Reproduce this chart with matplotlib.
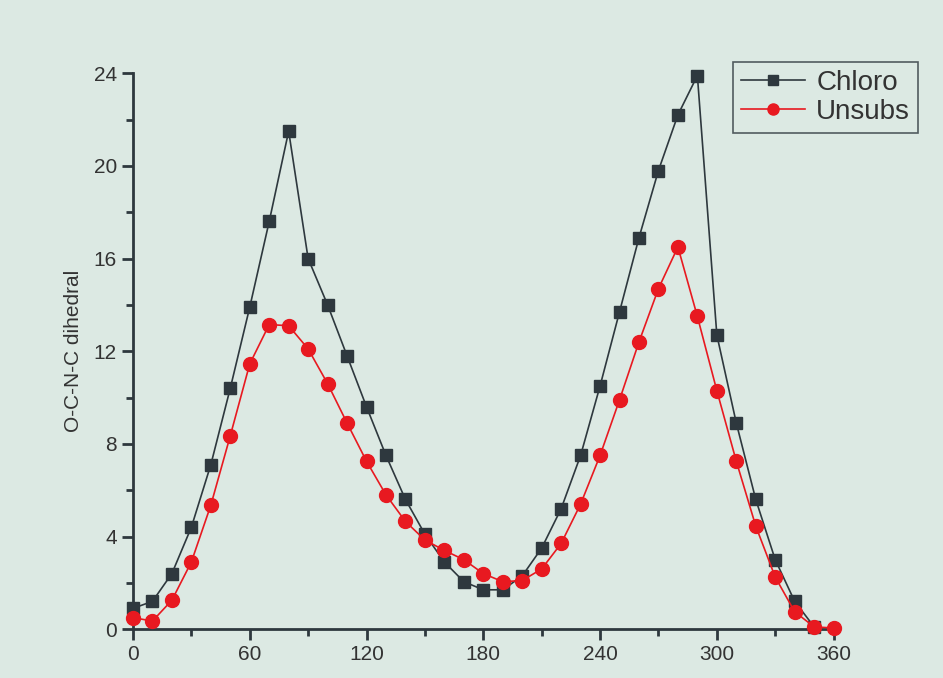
#!/usr/bin/env python3
"""Dihedral scan: chloro vs unsubstituted, redrawn from a screen photo."""

import matplotlib
matplotlib.use("Agg")
import matplotlib.pyplot as plt
from matplotlib.ticker import MultipleLocator

plt.rcParams["font.family"] = ["Liberation Sans", "DejaVu Sans"]

# angle grid (deg)
chloro_angle = list(range(0, 360, 10))
unsubs_angle = list(range(0, 370, 10))

chloro = [0.9, 1.2, 2.4, 4.4, 7.1, 10.4, 13.9, 17.6, 21.5, 16.0,
          14.0, 11.8, 9.6, 7.5, 5.6, 4.1, 2.9, 2.05, 1.7, 1.7,
          2.3, 3.5, 5.2, 7.5, 10.5, 13.7, 16.9, 19.8, 22.2, 23.9,
          12.7, 8.9, 5.6, 3.0, 1.2, 0.1]
unsubs = [0.5, 0.35, 1.25, 2.9, 5.35, 8.35, 11.45, 13.15, 13.1, 12.1,
          10.6, 8.9, 7.25, 5.8, 4.65, 3.85, 3.4, 3.0, 2.4, 2.05,
          2.1, 2.6, 3.7, 5.4, 7.5, 9.9, 12.4, 14.7, 16.5, 13.5,
          10.3, 7.25, 4.45, 2.25, 0.75, 0.1, 0.05]

xticks = [0, 60, 120, 180, 240, 300, 360]
yticks = [0, 4, 8, 12, 16, 20, 24]

BG = "#dce9e3"
DARK = "#2e383e"
RED = "#e81920"

fig = plt.figure(figsize=(9.43, 6.78), dpi=100, facecolor=BG)
ax = fig.add_axes([0.141, 0.072, 0.743, 0.820])
ax.set_facecolor(BG)

ax.plot(chloro_angle, chloro, color=DARK, lw=1.2, marker="s", ms=9,
        label="Chloro", clip_on=False, zorder=3)
ax.plot(unsubs_angle, unsubs, color=RED, lw=1.2, marker="o", ms=10,
        label="Unsubs", clip_on=False, zorder=4)

ax.set_xlim(0, 360)
ax.set_ylim(0, 24)
ax.set_xticks(xticks)
ax.set_yticks(yticks)
ax.xaxis.set_minor_locator(MultipleLocator(30))
ax.yaxis.set_minor_locator(MultipleLocator(2))

for side in ("top", "right"):
    ax.spines[side].set_visible(False)
for side in ("left", "bottom"):
    ax.spines[side].set_linewidth(2.0)
    ax.spines[side].set_color(DARK)

ax.tick_params(which="major", direction="out", length=8, width=2,
               colors=DARK, labelsize=15, labelcolor="#333333")
ax.tick_params(which="minor", direction="out", length=5, width=2, colors=DARK)

ax.set_ylabel("O-C-N-C dihedral", fontsize=15, color="#333333", labelpad=8)

leg = fig.legend(loc="upper right", bbox_to_anchor=(0.974, 0.909),
                 borderaxespad=0, fontsize=20, frameon=True, fancybox=False,
                 markerscale=0.8, handlelength=2.3, borderpad=0.3,
                 labelspacing=0.1, handletextpad=0.4)
leg.get_frame().set_edgecolor(DARK)
leg.get_frame().set_facecolor(BG)
leg.get_frame().set_linewidth(1.2)
for t in leg.get_texts():
    t.set_color("#333333")

fig.savefig("out.png", dpi=100, facecolor=BG)
